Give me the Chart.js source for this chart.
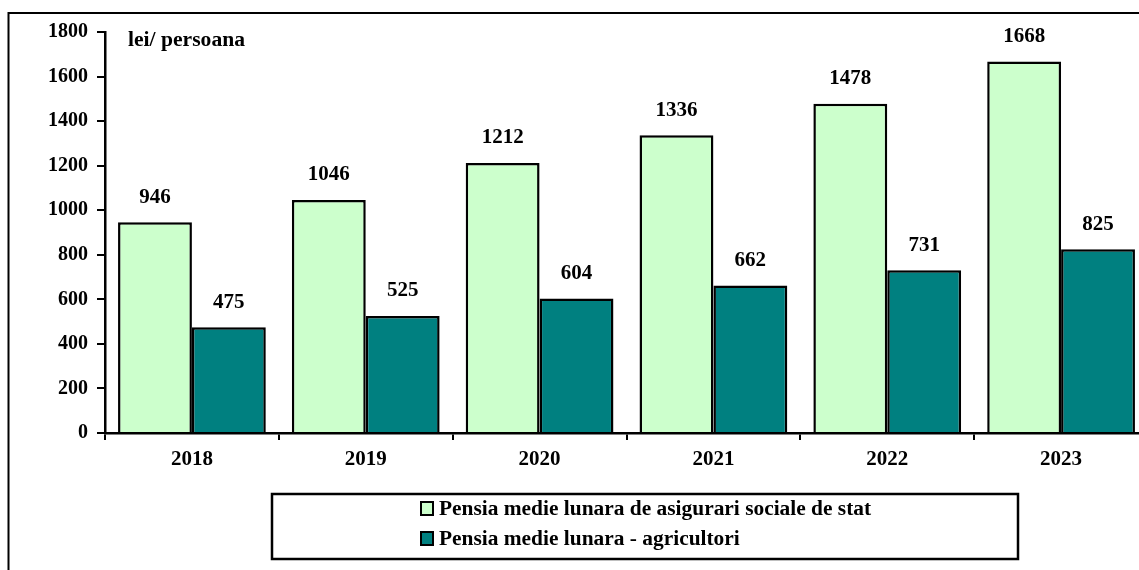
<!DOCTYPE html>
<html>
<head>
<meta charset="utf-8">
<script src="https://cdn.jsdelivr.net/npm/chart.js@4/dist/chart.umd.min.js"></script>
<style>
html,body{margin:0;padding:0;background:#fff;overflow:hidden;width:1139px;height:570px;}
canvas{display:block;}
</style>
</head>
<body>
<canvas id="c" width="1160" height="570" style="width:1160px;height:570px"></canvas>
<script>
const categories = ['2018','2019','2020','2021','2022','2023'];
const pensieStat = [946, 1046, 1212, 1336, 1478, 1668];
const pensieAgricultori = [475, 525, 604, 662, 731, 825];
const seriesNames = ['Pensia medie lunara de asigurari sociale de stat', 'Pensia medie lunara - agricultori'];
const yTicks = [0, 200, 400, 600, 800, 1000, 1200, 1400, 1600, 1800];
const unitLabel = 'lei/ persoana';

const FONT = '"Liberation Serif", "Times New Roman", serif';

const extras = {
  id: 'extras',
  afterDatasetsDraw(chart) {
    const ctx = chart.ctx;
    ctx.save();
    // value labels
    ctx.font = 'bold 21px ' + FONT;
    ctx.fillStyle = '#000';
    ctx.textAlign = 'center';
    ctx.textBaseline = 'middle';
    chart.data.datasets.forEach((ds, i) => {
      const meta = chart.getDatasetMeta(i);
      meta.data.forEach((bar, j) => {
        ctx.fillText(String(ds.data[j]), bar.x, bar.y - 25);
      });
    });
    // unit label
    ctx.font = 'bold 20px ' + FONT;
    ctx.textAlign = 'left';
    ctx.save();
    ctx.translate(128, 41);
    ctx.scale(1.08, 1);
    ctx.fillText(unitLabel, 0, 0);
    ctx.restore();
    // outer frame (top and left edges)
    ctx.strokeStyle = '#000';
    ctx.lineWidth = 2;
    ctx.beginPath();
    ctx.moveTo(8.5, 600);
    ctx.lineTo(8.5, 13);
    ctx.lineTo(1200, 13);
    ctx.stroke();
    // legend
    ctx.lineWidth = 2.5;
    ctx.strokeRect(272, 494, 746, 65);
    ctx.font = 'bold 20px ' + FONT;
    chart.data.datasets.forEach((ds, i) => {
      const cy = 509 + i * 30;
      ctx.fillStyle = ds.backgroundColor;
      ctx.fillRect(421, cy - 7, 12, 13);
      ctx.lineWidth = 2;
      ctx.strokeRect(421, cy - 7, 12, 13);
      ctx.fillStyle = '#000';
      ctx.textAlign = 'left';
      ctx.textBaseline = 'middle';
      ctx.save();
      ctx.translate(439, cy + 1);
      ctx.scale(1.07, 1);
      ctx.fillText(ds.label, 0, 0);
      ctx.restore();
    });
    ctx.restore();
  }
};

new Chart(document.getElementById('c'), {
  type: 'bar',
  data: {
    labels: categories,
    datasets: [
      { label: seriesNames[0], data: pensieStat, backgroundColor: '#CCFFCC', borderColor: '#000', borderWidth: 2.5, borderSkipped: 'bottom' },
      { label: seriesNames[1], data: pensieAgricultori, backgroundColor: '#008080', borderColor: '#000', borderWidth: 2.5, borderSkipped: 'bottom' }
    ]
  },
  options: {
    responsive: false,
    devicePixelRatio: 1,
    animation: false,
    layout: { padding: { top: 32, right: 12, left: 0, bottom: 0 } },
    plugins: { legend: { display: false }, tooltip: { enabled: false } },
    datasets: { bar: { categoryPercentage: 0.85, barPercentage: 1.0 } },
    scales: {
      x: {
        afterFit(s) { s.height = 137; },
        grid: { offset: true, drawOnChartArea: false, tickLength: 7, color: '#000', lineWidth: 2 },
        border: { color: '#000', width: 2.5 },
        ticks: { color: '#000', font: { family: FONT, size: 21, weight: 'bold' }, padding: 7, maxRotation: 0 }
      },
      y: {
        min: 0, max: 1800,
        afterFit(s) { s.width = 105; },
        afterBuildTicks(s) { s.ticks = yTicks.map(v => ({ value: v })); },
        grid: { drawOnChartArea: false, tickLength: 8, color: '#000', lineWidth: 2 },
        border: { color: '#000', width: 2.5 },
        ticks: { color: '#000', font: { family: FONT, size: 20, weight: 'bold' }, padding: 9, callback: v => String(v) }
      }
    }
  },
  plugins: [extras]
});
</script>
</body>
</html>
